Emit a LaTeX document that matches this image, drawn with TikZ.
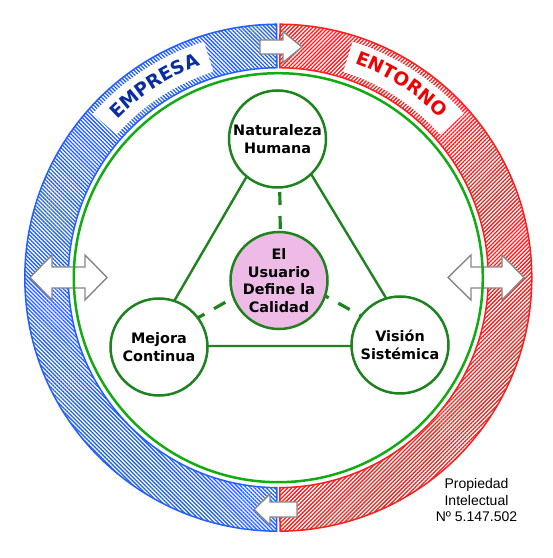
\documentclass[tikz,border=0pt]{standalone}
\usepackage{fontspec}
\newfontfamily\dvs{DejaVu Sans}
\newfontfamily\libs{Liberation Sans}
\usetikzlibrary{patterns.meta,decorations.text,calc}
\definecolor{ringblue}{RGB}{35,95,250}
\definecolor{ringred}{RGB}{250,30,30}
\definecolor{empblue}{RGB}{10,45,160}
\definecolor{entred}{RGB}{240,0,0}
\definecolor{brgreen}{RGB}{20,170,20}
\definecolor{dkgreen}{RGB}{30,130,30}
\definecolor{pinkfill}{RGB}{238,186,230}
\definecolor{arrgray}{RGB}{135,135,135}
\tikzset{
  bluering/.style={draw=ringblue, line width=1.5pt, pattern={Lines[angle=-45,distance=2.8pt,line width=1.3pt]}, pattern color=ringblue},
  redring/.style={draw=ringred, line width=1.5pt, pattern={Lines[angle=45,distance=2.8pt,line width=1.3pt]}, pattern color=ringred},
  triline/.style={draw=dkgreen, line width=2.4pt},
  dashline/.style={draw=dkgreen, line width=3.2pt, dash pattern=on 13pt off 11pt},
  bubble/.style={circle, draw=dkgreen, line width=2.5pt, fill=white, minimum size=97pt, inner sep=0pt, align=center, font=\dvs\bfseries\fontsize{14.4}{17.5}\selectfont},
  blockarrow/.style={draw=arrgray, line width=1.4pt, fill=white, line join=miter},
}
\begin{document}
\begin{tikzpicture}[x=1pt,y=1pt]
\useasboundingbox (0,0) rectangle (553,558);
\fill[white] (0,0) rectangle (553,558);
\begin{scope}[shift={(278.3,280.3)}]
  \draw[bluering] (90.4:253.5) arc[start angle=90.4,end angle=269.6,radius=253.5] -- (269.6:210) arc[start angle=269.6,end angle=90.4,radius=210] -- cycle;
  \draw[redring] (-89.6:253.5) arc[start angle=-89.6,end angle=89.6,radius=253.5] -- (89.6:210) arc[start angle=89.6,end angle=-89.6,radius=210] -- cycle;
  \fill[white] (107.5:247.5) arc[start angle=107.5,end angle=138.5,radius=247.5] -- (138.5:216) arc[start angle=138.5,end angle=107.5,radius=216] -- cycle;
  \fill[white] (41.5:247.5) arc[start angle=41.5,end angle=72.5,radius=247.5] -- (72.5:216) arc[start angle=72.5,end angle=41.5,radius=216] -- cycle;
  \path[decorate, decoration={text along path, text={|\dvs\bfseries\fontsize{18.6}{20}\selectfont|EMPRESA}, text align=center, text color=empblue}] (162.8:226) arc[start angle=162.8,end angle=82.8,radius=226];
  \path[decorate, decoration={text along path, text={|\dvs\bfseries\fontsize{18.6}{20}\selectfont|ENTORNO}, text align=center, text color=entred}] (97.5:227.5) arc[start angle=97.5,end angle=17.5,radius=227.5];
\end{scope}
% side arrows
\draw[blockarrow] (30,280.5) -- (52,303) -- (52,291) -- (85,291) -- (85,303) -- (107,280.5) -- (85,258) -- (85,270) -- (52,270) -- (52,258) -- cycle;
\draw[blockarrow] (448,280.5) -- (471,303) -- (471,291) -- (502,291) -- (502,303) -- (524,280.5) -- (502,258) -- (502,270) -- (471,270) -- (471,258) -- cycle;
% top and bottom arrows
\draw[blockarrow] (260,504) -- (283,504) -- (283,495.5) -- (302,511) -- (283,526.5) -- (283,518) -- (260,518) -- cycle;
\draw[blockarrow] (297,41) -- (270,41) -- (270,33) -- (254,48.5) -- (270,64) -- (270,56) -- (297,56) -- cycle;
% inner green circle
\draw[brgreen, line width=2.5pt] (278.3,280.3) circle[radius=204.5];
% triangle
\coordinate (tA) at (279,437);
\coordinate (tB) at (148,212);
\coordinate (tC) at (415,212);
\coordinate (tG) at (280.7,287);
\draw[triline] (tA) -- (tB) -- (tC) -- cycle;
\draw[dashline, dash phase=6pt] (tG) -- (tA);
\draw[dashline, dash phase=8.4pt] (tG) -- (tB);
\draw[dashline, dash phase=6pt] (tG) -- (tC);
% circles
\node[bubble] (nat) at (277.5,419) {Naturaleza\\Humana};
\node[bubble, fill=pinkfill] (usr) at (279,277.5) {El\\Usuario\\Define la\\Calidad};
\node[bubble] (mej) at (159,211) {Mejora\\Continua};
\node[bubble] (vis) at (400,213) {Visión\\Sistémica};
% copyright
\node[font=\libs\fontsize{14}{16.7}\selectfont, align=center, inner sep=0pt] (ip) at (476.5,58) {Propiedad\\Intelectual\\Nº 5.147.502};
\end{tikzpicture}
\end{document}
